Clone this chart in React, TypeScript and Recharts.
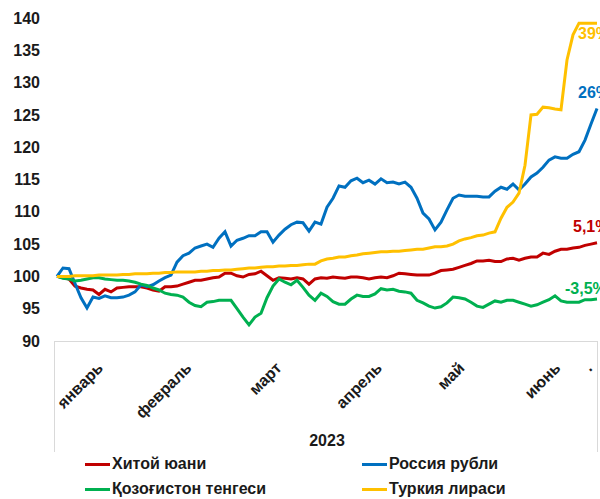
import React from 'react';
import { LineChart, Line, XAxis, YAxis } from 'recharts';

// readings taken every 2 days from 1 Jan 2023 (day 0) to the end of June (day 180)
const days = Array.from({ length: 91 }, (_, i) => i * 2);

const yuan = [
  100, 99.8, 99.6, 98.5, 98.2, 98.0, 97.9, 97.2, 98.0, 97.6,
  98.2, 98.3, 98.4, 98.4, 98.4, 98.2, 97.9, 97.7, 98.4, 98.4,
  98.5, 98.8, 99.1, 99.4, 99.4, 99.6, 99.8, 99.9, 100.5, 100.5,
  100.1, 99.9, 100.3, 100.4, 100.8, 100.1, 99.4, 99.8, 99.7, 99.6,
  99.8, 99.6, 98.8, 99.6, 99.8, 99.7, 99.9, 99.8, 99.7, 99.9,
  99.9, 99.8, 99.6, 99.8, 99.9, 99.8, 100.1, 100.5, 100.4, 100.3,
  100.2, 100.2, 100.2, 100.5, 100.9, 101.0, 101.1, 101.4, 101.7, 102.0,
  102.4, 102.4, 102.5, 102.3, 102.3, 102.7, 102.8, 102.5, 102.8, 103.0,
  103.0, 103.6, 103.4, 103.9, 104.2, 104.2, 104.4, 104.5, 104.8, 105.0,
  105.2,
];

const ruble = [
  100, 101.3, 101.2, 98.9, 96.7, 95.1, 96.8, 96.6, 97.0, 96.7,
  96.7, 96.8, 97.1, 97.6, 98.7, 98.4, 98.7, 99.3, 99.8, 100.2,
  102.2, 103.2, 103.6, 104.4, 104.7, 105.0, 104.5, 105.9, 106.9, 104.7,
  105.6, 105.9, 106.3, 106.3, 106.9, 106.9, 105.3, 106.4, 107.3, 108.0,
  108.4, 108.3, 107.0, 108.4, 108.1, 110.7, 112.1, 114.0, 113.8, 114.8,
  115.2, 114.5, 114.9, 114.3, 115.1, 114.5, 114.6, 114.3, 114.6, 113.8,
  112.1, 109.8, 108.9, 107.2, 108.4, 110.3, 112.1, 112.6, 112.4, 112.4,
  112.4, 112.3, 112.3, 113.2, 113.8, 113.5, 114.3, 113.4, 114.3, 115.4,
  116.0, 116.9, 118.0, 118.5, 118.3, 118.3, 118.9, 119.3, 121.1, 123.6,
  126.0,
];

const tenge = [
  100, 99.7, 99.6, 99.3, 99.4, 99.6, 99.8, 99.8, 99.6, 99.5,
  99.4, 99.4, 99.3, 99.1, 98.8, 98.6, 98.2, 97.9, 97.4, 97.2,
  97.1, 96.8, 96.0, 95.5, 95.3, 96.0, 96.1, 96.3, 96.3, 96.3,
  95.0, 93.7, 92.5, 93.7, 94.3, 96.7, 98.5, 99.6, 99.1, 98.7,
  99.4, 98.3, 97.1, 96.3, 97.4, 96.9, 96.1, 95.7, 95.7, 96.5,
  97.1, 96.9, 96.9, 97.3, 98.1, 97.9, 98.0, 97.7, 97.6, 97.4,
  96.3, 95.9, 95.4, 95.1, 95.3, 95.9, 96.8, 96.7, 96.5, 96.0,
  95.4, 95.2, 95.7, 96.2, 96.0, 96.3, 96.3, 96.0, 95.7, 95.4,
  95.6, 96.0, 96.4, 97.0, 96.2, 96.0, 96.0, 96.0, 96.4, 96.4,
  96.5,
];

const lira = [
  100, 100, 100, 100.1, 100.1, 100.1, 100.1, 100.2, 100.2, 100.2,
  100.2, 100.3, 100.3, 100.4, 100.4, 100.4, 100.5, 100.5, 100.6, 100.6,
  100.7, 100.7, 100.7, 100.7, 100.8, 100.8, 100.9, 100.9, 101.0, 101.0,
  101.1, 101.2, 101.3, 101.3, 101.4, 101.5, 101.5, 101.6, 101.6, 101.7,
  101.7, 101.8, 101.9, 101.9, 102.4, 102.7, 102.8, 103.0, 103.0, 103.2,
  103.3, 103.5, 103.6, 103.7, 103.8, 103.8, 103.9, 103.9, 104.0, 104.1,
  104.2, 104.2, 104.4, 104.6, 104.6, 104.7, 105.0, 105.5, 105.8, 106.0,
  106.3, 106.4, 106.7, 106.9, 109.0, 110.7, 111.5, 112.9, 117.2, 125.0,
  125.1, 126.2, 126.1, 125.9, 125.8, 133.5, 137.4, 139.2, 139.2, 139.2,
  139.2,
];

const monthTicks = [13, 42.5, 72.5, 106, 133.5, 165.5, 176];
const monthLabels = ['январь', 'февраль', 'март', 'апрель', 'май', 'июнь', '.'];
const yTicks = [90, 95, 100, 105, 110, 115, 120, 125, 130, 135, 140];

const series = [
  { key: 'yuan', name: 'Хитой юани', color: '#c00000', end: '5,1%', dx: -24, dy: -16 },
  { key: 'ruble', name: 'Россия рубли', color: '#0070c0', end: '26%', dx: -19, dy: -16 },
  { key: 'tenge', name: 'Қозоғистон тенгеси', color: '#00b050', end: '-3,5%', dx: -32, dy: -11 },
  { key: 'lira', name: 'Туркия лираси', color: '#ffc000', end: '39%', dx: -19, dy: 10 },
];

const data = days.map((day, i) => ({
  day,
  yuan: yuan[i],
  ruble: ruble[i],
  tenge: tenge[i],
  lira: lira[i],
}));

const FONT = '"Liberation Sans", Arial, sans-serif';
const C45 = 0.7071;

// -45° rotation written as a matrix, pivot at the tick's top-right corner
const renderMonthTick = (props: any) => {
  const { x, y, payload } = props;
  const label = monthLabels[monthTicks.indexOf(payload.value)];
  return (
    <g transform={`matrix(${C45} ${-C45} ${C45} ${C45} ${x} ${y})`}>
      <text x={0} y={0} dy="0.71em" textAnchor="end" fontSize={16} fontWeight="bold" fill="#1a1a1a" fontFamily={FONT}>
        {label}
      </text>
    </g>
  );
};

const endLabel = (s: typeof series[number]) => (props: any) => {
  const { x, y, index } = props;
  if (index !== data.length - 1) return null;
  return (
    <text
      x={x + s.dx}
      y={y + s.dy}
      dominantBaseline="central"
      fontSize={16}
      fontWeight="bold"
      fill={s.color}
      fontFamily={FONT}
    >
      {s.end}
    </text>
  );
};

export default function App() {
  return (
    <div style={{ position: 'absolute', left: 0, top: 0, width: 600, height: 499, background: '#fff', fontFamily: FONT }}>
      <div
        style={{
          position: 'absolute',
          left: 54,
          top: 341,
          width: 542,
          height: 110,
          borderTop: '1px solid #d9d9d9',
          borderLeft: '1px solid #d9d9d9',
          borderRight: '1px solid #d9d9d9',
        }}
      />
      <LineChart
        width={600}
        height={499}
        data={data}
        margin={{ top: 18, right: 3, bottom: 48, left: 0 }}
        style={{ position: 'absolute', left: 0, top: 0 }}
      >
        <XAxis
          dataKey="day"
          type="number"
          domain={[0, 180]}
          ticks={monthTicks}
          interval={0}
          height={110}
          axisLine={false}
          tickLine={false}
          tickSize={0}
          tickMargin={20}
          tick={renderMonthTick}
          label={{ value: '2023', position: 'insideBottom', offset: 5, fontSize: 16, fontWeight: 'bold', fill: '#1a1a1a' }}
        />
        <YAxis
          domain={[90, 140]}
          ticks={yTicks}
          interval={0}
          width={57}
          axisLine={false}
          tickLine={false}
          tickSize={0}
          tickMargin={17}
          tick={{ fontSize: 16, fontWeight: 'bold', fill: '#1a1a1a', fontFamily: FONT }}
        />
        {series.map((s) => (
          <Line
            key={s.key}
            dataKey={s.key}
            name={s.name}
            stroke={s.color}
            strokeWidth={3}
            dot={false}
            type="linear"
            isAnimationActive={false}
            label={endLabel(s)}
          />
        ))}
      </LineChart>
      {series.map((s, i) => (
        <div
          key={s.key}
          style={{
            position: 'absolute',
            left: i % 2 === 0 ? 85 : 362,
            top: i < 2 ? 453 : 478,
            height: 22,
            display: 'flex',
            alignItems: 'center',
            fontSize: 16,
            fontWeight: 'bold',
            color: '#1a1a1a',
            whiteSpace: 'nowrap',
          }}
        >
          <span style={{ display: 'inline-block', width: 25, height: 3, background: s.color, marginRight: 2 }} />
          {s.name}
        </div>
      ))}
    </div>
  );
}
